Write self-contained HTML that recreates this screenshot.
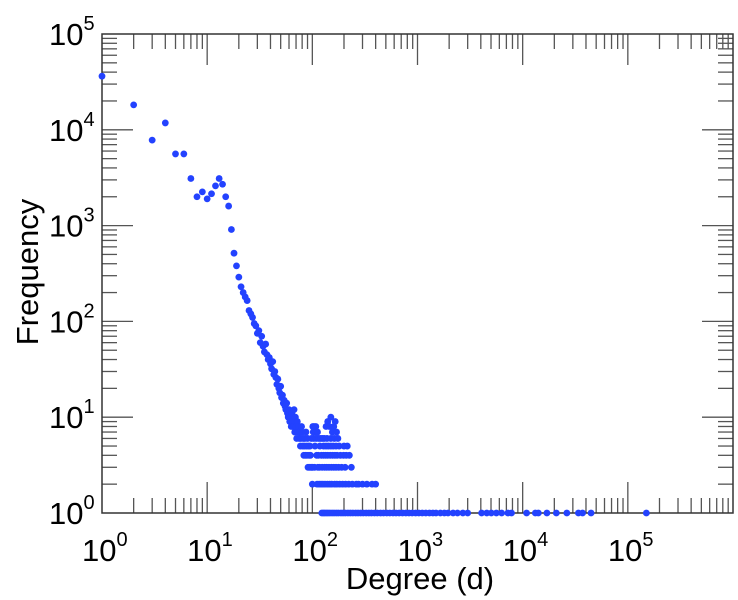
<!DOCTYPE html>
<html><head><meta charset="utf-8">
<style>
html,body{margin:0;padding:0;background:#fff;}
svg{display:block;font-family:"Liberation Sans",sans-serif;}
</style></head>
<body>
<svg id="chart" width="738" height="600" viewBox="0 0 738 600" xmlns="http://www.w3.org/2000/svg">
<g id="ticks"></g>
<rect x="102" y="34" width="631" height="479" fill="none" stroke="#333" stroke-width="1.5"/>
<g id="labels"></g>
<g id="points"></g>
<text x="420" y="589" font-size="31" text-anchor="middle" fill="#000">Degree (d)</text>
<text x="0" y="0" font-size="31" text-anchor="middle" fill="#000" transform="translate(38,272) rotate(-90)">Frequency</text>
</svg>
<script>
const xTickExps = [0,1,2,3,4,5];
const yTickExps = [0,1,2,3,4,5];
const degrees = [1,2,3,4,5,6,7,8,9,10,11,12,13,14,15,16,17,18,19,20,21,
22,23,24,25,26,27,28,29,30,31,32,33,34,35,36,37,38,39,40,41,42,43,44,45,46,47,48,49,50,
51,52,53,54,55,56,57,58,59,60,61,62,63,64,65,66,67,68,69,70,71,72,73,74,75,76,77,78,79,80,
81,82,83,84,85,86,87,88,89,90,91,92,93,94,95,96,97,98,99,100];
const freqs = [36300,18200,7800,11800,5600,5600,3100,2000,2250,1900,2150,2600,3100,2700,2000,1600,910,515,380,290,230,
200,180,165,130,120,110,95,90,75,80,60,70,55,48,58,45,40,42,36,32,38,28,30,26,22,25,20,18,21,
16,17,14,15,13,12,14,11,10,12,9,10,8,11,9,8,12,7,10,8,6,9,7,8,6,7,5,6,8,7,
5,6,4,5,6,4,7,5,4,6,3,5,4,3,5,4,3,6,3,2];
const tail10 = [150];
const tail9 = [140,165];
const tail8 = [101,104,108,135,145,160];
const tail7 = [102,107,112,155,170];
const tail6 = [103,109,115,120,125,130,138,150,162,175];
const tail5 = [106,118,128,135,142,150,158,168,180,200,215];
const tail4 = [110,114,122,128,134,140,148,156,164,172,185,198,210,225];
const tail3 = [101,105,113,117,124,131,137,144,152,160,168,178,190,205,235];
const tail2 = [111,116,121,126,132,139,146,153,163,171,182,194,207,222,240,262,275,300,330,370,400];
const tail1 = [123,127,131,136,141,147,154,161,169,177,187,196,206,218,230,243,258,272,288,305,325,345,365,390,415,445,475,510,545,585,625,670,720,775,830,890,960,1030,1110,1200,1300,1400,1500,1650,1800,1950,2180,2400,2700,3000,4070,4560,5030,5620,6310,7240,7830,10900,13200,14100,17000,20900,26300,33900,37100,44700,150000];

const NS='http://www.w3.org/2000/svg';
const X0=102, X1=733, Y0=513, Y1=34;
const XMAX=6, YMAX=5;
function xs(v){return X0+Math.log10(v)/XMAX*(X1-X0);}
function ys(v){return Y0-Math.log10(v)/YMAX*(Y0-Y1);}
function mk(tag,attrs,parent){const e=document.createElementNS(NS,tag);for(const k in attrs)e.setAttribute(k,attrs[k]);parent.appendChild(e);return e;}

const tg=document.getElementById('ticks');
for(let e=0;e<XMAX;e++){for(let m=1;m<=9;m++){
  const x=xs(m*Math.pow(10,e)); const len=m===1?31:15;
  if(m===1&&e===0)continue;
  let t=mk('line',{x1:x,x2:x,y1:Y0,y2:Y0-len,stroke:'#555','stroke-width':1.3},tg);
  
  
  t=mk('line',{x1:x,x2:x,y1:Y1,y2:Y1+len,stroke:'#555','stroke-width':1.3},tg);
  
  
}}
for(let e=0;e<YMAX;e++){for(let m=1;m<=9;m++){
  const y=ys(m*Math.pow(10,e)); const len=m===1?31:15;
  if(m===1&&e===0)continue;
  let t=mk('line',{x1:X0,x2:X0+len,y1:y,y2:y,stroke:'#555','stroke-width':1.3},tg);
  
  
  t=mk('line',{x1:X1,x2:X1-len,y1:y,y2:y,stroke:'#555','stroke-width':1.3},tg);
  
  
}}

const lg=document.getElementById('labels');
xTickExps.forEach(e=>{
  const x=xs(Math.pow(10,e));
  const t=mk('text',{x:x-20,y:561,'font-size':31,fill:'#000'},lg);
  
  
  t.textContent='10';
  const s=mk('tspan',{dy:-15,'font-size':20},t); s.textContent=String(e);
});
yTickExps.forEach(e=>{
  const y=ys(Math.pow(10,e));
  const t=mk('text',{x:49,y:y+11,'font-size':31,fill:'#000'},lg);
  
  
  t.textContent='10';
  const s=mk('tspan',{dy:-15,'font-size':20},t); s.textContent=String(e);
});

const pg=document.getElementById('points');
function dot(d,f){
  const c=mk('circle',{cx:xs(d),cy:ys(f),r:3.4,fill:'#2342ff'},pg);
  
  
}
degrees.forEach((d,i)=>dot(d,freqs[i]));
[[tail10,10],[tail9,9],[tail8,8],[tail7,7],[tail6,6],[tail5,5],[tail4,4],[tail3,3],[tail2,2],[tail1,1]].forEach(([arr,f])=>arr.forEach(d=>dot(d,f)));
</script>
</body></html>
